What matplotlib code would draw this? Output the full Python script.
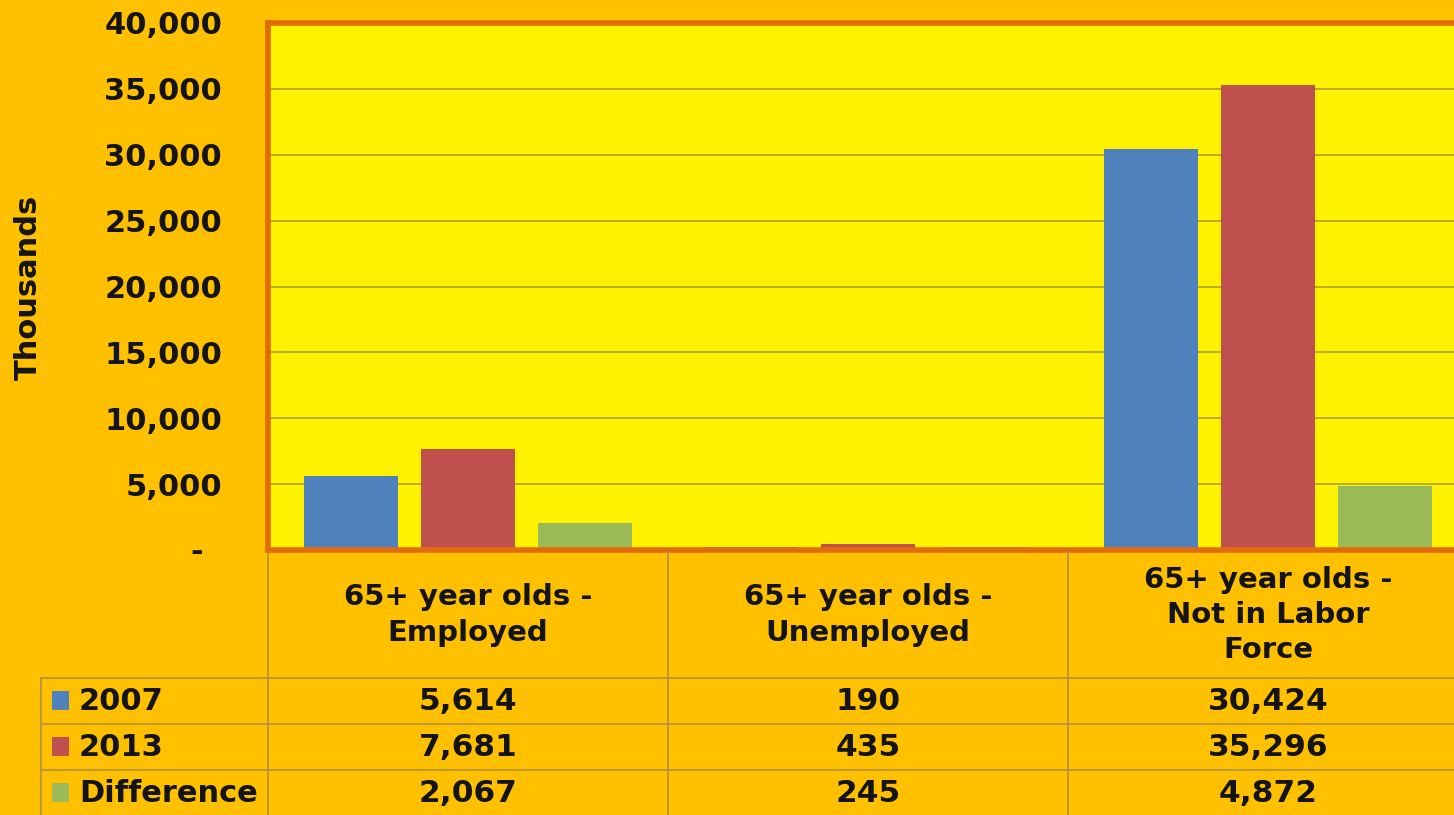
import matplotlib
matplotlib.use("Agg")
import matplotlib.pyplot as plt
import matplotlib.transforms as mtransforms
import numpy as np

# Data (thousands of people aged 65+)
categories = ["65+ year olds -\nEmployed",
              "65+ year olds -\nUnemployed",
              "65+ year olds -\nNot in Labor\nForce"]
series_names = ["2007", "2013", "Difference"]
values_2007 = [5614, 190, 30424]
values_2013 = [7681, 435, 35296]
values_diff = [2067, 245, 4872]
y_ticks = [0, 5000, 10000, 15000, 20000, 25000, 30000, 35000, 40000]

series_values = [values_2007, values_2013, values_diff]
series_colors = ["#4F81BD", "#C0504D", "#9BBB59"]

BG = "#FFC000"
PLOT_BG = "#FFF200"
BORDER = "#E36C0A"
GRID = "#A89A3C"
TABLE_LINE = "#A88C48"
TEXT = "#141414"

W, H = 1454, 815
fig = plt.figure(figsize=(W / 100, H / 100), dpi=100, facecolor=BG)
plt.rcParams["font.family"] = ["DejaVu Sans"]
plt.rcParams["font.weight"] = "bold"


def fx(px):
    return px / W


def fy(py):
    return 1 - py / H


# Plot area: categories of equal width, the last one runs past the right edge
left, right, top, bottom = 268, 1468, 23, 550
ax = fig.add_axes([fx(left), fy(bottom), fx(right - left), fy(top) - fy(bottom)])
ax.set_facecolor(PLOT_BG)
ax.set_xlim(0, len(categories))
ax.set_ylim(0, 40000)

x = np.arange(len(categories)) + 0.5
offsets = [-0.2925, 0.0, 0.2925]
bar_w = 0.235
for vals, off, col in zip(series_values, offsets, series_colors):
    ax.bar(x + off, vals, width=bar_w, color=col, zorder=2)

ax.set_yticks(y_ticks)
ax.set_yticklabels(["-" if v == 0 else f"{v:,}" for v in y_ticks],
                   fontsize=22, fontweight="bold", color=TEXT)
ax.tick_params(axis="y", length=0, pad=33)
ax.tick_params(axis="x", length=0, labelbottom=False)
ax.yaxis.grid(True, color=GRID, linewidth=1.1, zorder=1)
ax.set_axisbelow(True)

# shift the zero label left, as in accounting number format
zero_lbl = ax.get_yticklabels()[0]
zero_lbl.set_transform(zero_lbl.get_transform() +
                       mtransforms.ScaledTranslation(-19 / 100, 0, fig.dpi_scale_trans))

for side in ("left", "top", "bottom"):
    ax.spines[side].set_color(BORDER)
    ax.spines[side].set_linewidth(4)
    ax.spines[side].set_zorder(3)
ax.spines["right"].set_visible(False)

fig.text(fx(28), fy(287), "Thousands", rotation=90, ha="center", va="center",
         fontsize=22, fontweight="bold", color=TEXT)

# Data table under the chart
tr = mtransforms.blended_transform_factory(ax.transData, fig.transFigure)
row_tops = [678, 724, 770]
for ry in row_tops:
    fig.add_artist(plt.Line2D([fx(41), 1], [fy(ry), fy(ry)], color=TABLE_LINE,
                              linewidth=1.1, transform=fig.transFigure))
fig.add_artist(plt.Line2D([fx(41), fx(41)], [fy(678), 0], color=TABLE_LINE,
                          linewidth=1.1, transform=fig.transFigure))
for i in range(len(categories)):
    fig.add_artist(plt.Line2D([i, i], [fy(552), 0], color=TABLE_LINE,
                              linewidth=1.1, transform=tr))

# column headers
for xi, cat in zip(x, categories):
    fig.text(xi, fy(615), cat, transform=tr, ha="center", va="center",
             fontsize=21, fontweight="bold", color=TEXT, linespacing=1.32)

# rows: legend key, series name, values
row_centers = [701, 747, 793]
for name, vals, col, ry in zip(series_names, series_values, series_colors, row_centers):
    fig.patches.append(plt.Rectangle((fx(52), fy(ry + 9)), fx(17), 19 / H,
                                     facecolor=col, edgecolor="none",
                                     transform=fig.transFigure, figure=fig))
    fig.text(fx(79), fy(ry), name, ha="left", va="center",
             fontsize=22, fontweight="bold", color=TEXT)
    for xi, v in zip(x, vals):
        fig.text(xi, fy(ry), f"{v:,}", transform=tr, ha="center", va="center",
                 fontsize=22.5, fontweight="bold", color=TEXT)

fig.savefig("out.png", dpi=100, facecolor=BG)
